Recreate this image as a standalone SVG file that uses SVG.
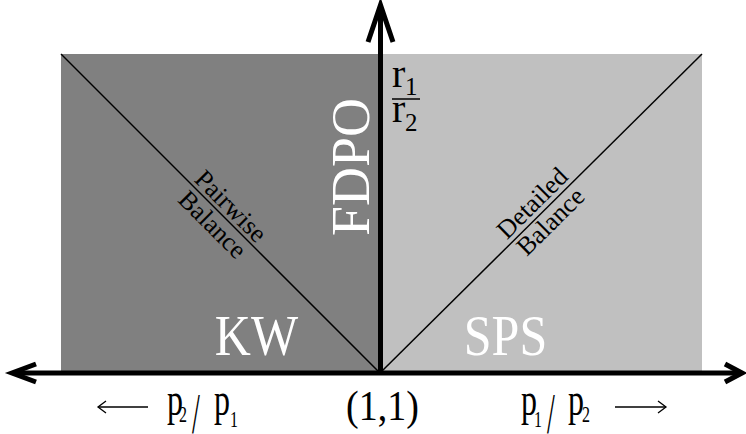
<svg xmlns="http://www.w3.org/2000/svg" width="746" height="434" viewBox="0 0 746 434">
<style>
text{font-family:"Liberation Serif","Times New Roman",serif;}
.w{fill:#ffffff;}
.k{fill:#000000;}
.axis{stroke:#000;stroke-width:5;fill:none;stroke-linecap:butt;}
.head{stroke:#000;stroke-width:5;fill:none;stroke-linejoin:miter;stroke-miterlimit:10;}
.diag{stroke:#000;stroke-width:1.5;}
.thin{stroke:#000;stroke-width:1.3;fill:none;}
.p{font-size:32px;}
.sub{font-size:16px;}
.sl{font-size:28px;}
</style>
<g id="region-kw">
<rect x="61" y="54" width="319" height="319" fill="#808080"/>
<text class="w" transform="translate(256.5,355) scale(1,1.12)" font-size="50" text-anchor="middle">KW</text>
</g>
<g id="region-sps">
<rect x="380" y="54" width="322" height="319" fill="#c0c0c0"/>
<text class="w" transform="translate(505.5,355) scale(1,1.12)" font-size="50" text-anchor="middle">SPS</text>
</g>
<g id="fdpo">
<text class="w" transform="translate(369,167) rotate(-90)" font-size="54" text-anchor="middle">FDPO</text>
</g>
<g id="pairwise">
<line class="diag" x1="61" y1="54" x2="380" y2="373"/>
<g transform="translate(222,215) rotate(45)">
<text class="k" x="0" y="-4" font-size="26" text-anchor="middle">Pairwise</text>
<text class="k" x="0" y="22" font-size="26" text-anchor="middle">Balance</text>
</g>
</g>
<g id="detailed">
<line class="diag" x1="380" y1="373" x2="702" y2="54"/>
<g transform="translate(541,212) rotate(-44.7)">
<text class="k" x="0" y="-4" font-size="26" text-anchor="middle">Detailed</text>
<text class="k" x="0" y="22" font-size="26" text-anchor="middle">Balance</text>
</g>
</g>
<g id="connectors">
<line class="axis" x1="14" y1="373" x2="741" y2="373"/>
<line class="axis" x1="380.5" y1="373" x2="380.5" y2="7"/>
<polyline class="head" points="36,364 12,373 36,382"/>
<polyline class="head" points="725,364 742,373 725,382"/>
<polyline class="head" points="368,42 380.5,5 393,42"/>
</g>
<g id="ratio-r">
<text class="k" x="392" y="87" font-size="40">r</text>
<text class="k" x="405" y="95" font-size="25">1</text>
<line x1="392" y1="99" x2="420" y2="99" stroke="#000" stroke-width="1.5"/>
<text class="k" x="392" y="122" font-size="40">r</text>
<text class="k" x="405" y="131" font-size="25">2</text>
</g>
<g id="label-left">
<line class="thin" x1="98" y1="407" x2="148" y2="407"/>
<polyline class="thin" points="106,401 98,407 106,413"/>
<g transform="translate(0,415) scale(1,1.45)">
<text class="k p" x="167" y="0">p</text>
<text class="k sub" x="179" y="4.8">2</text>
<text class="k p" x="214" y="0">p</text>
<text class="k sub" x="230" y="8.3">1</text>
</g>
<text class="k sl" transform="translate(192,433) scale(1,2.05)" x="0" y="0">/</text>
</g>
<g id="label-center">
<text class="k" transform="translate(382.5,420) scale(1,1.1)" font-size="38" text-anchor="middle">(1,1)</text>
</g>
<g id="label-right">
<g transform="translate(0,415) scale(1,1.45)">
<text class="k p" x="521" y="0">p</text>
<text class="k sub" x="534" y="8.3">1</text>
<text class="k p" x="568" y="0">p</text>
<text class="k sub" x="582" y="4.8">2</text>
</g>
<text class="k sl" transform="translate(547,433) scale(1,2.05)" x="0" y="0">/</text>
<line class="thin" x1="615" y1="407" x2="666" y2="407"/>
<polyline class="thin" points="658,401 666,407 658,413"/>
</g>
</svg>
